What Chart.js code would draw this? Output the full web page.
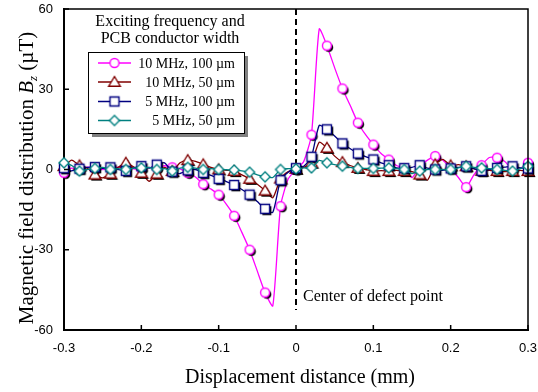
<!DOCTYPE html>
<html>
<head>
<meta charset="utf-8">
<script src="https://cdn.jsdelivr.net/npm/chart.js@4.4.1/dist/chart.umd.min.js"></script>
<style>
  html, body { margin: 0; padding: 0; background: #fff; }
  #wrap { width: 538px; height: 392px; }
</style>
</head>
<body>
<div id="wrap"><canvas id="fieldChart" width="538" height="392"></canvas></div>
<script>
// Scan positions (mm), one sample every 0.01 mm
const positions = [
  -0.30, -0.29, -0.28, -0.27, -0.26, -0.25, -0.24, -0.23, -0.22, -0.21,
  -0.20, -0.19, -0.18, -0.17, -0.16, -0.15, -0.14, -0.13, -0.12, -0.11,
  -0.10, -0.09, -0.08, -0.07, -0.06, -0.05, -0.04, -0.03, -0.02, -0.01,
   0.00,  0.01,  0.02,  0.03,  0.04,  0.05,  0.06,  0.07,  0.08,  0.09,
   0.10,  0.11,  0.12,  0.13,  0.14,  0.15,  0.16,  0.17,  0.18,  0.19,
   0.20,  0.21,  0.22,  0.23,  0.24,  0.25,  0.26,  0.27,  0.28,  0.29,
   0.30
];

const xTicks = [-0.3, -0.2, -0.1, 0, 0.1, 0.2, 0.3];
const yTicks = [-60, -30, 0, 30, 60];

// Bz (uT) per excitation / conductor width
const bz10MHz100um = [
  -1.2, 0.5, 0.3, 0.9, 0.6, 0.0, 0.4, 0.9, 0.6, 0.2,
   0.3, 0.8, 0.5, 1.4, 0.8, 0.2, -1.2, -2.8, -5.5, -7.3,
  -9.4, -13.0, -17.3, -23.5, -30.0, -38.0, -46.0, -51.0, -13.7, -3.5,
   0.0, 3.0, 13.0, 52.5, 46.3, 38.0, 30.3, 24.0, 17.5, 13.0,
   9.3, 6.0, 3.7, 1.5, 0.4, -3.0, 1.2, 3.5, 5.0, 3.5,
   0.4, -3.0, -6.6, -2.0, 1.6, 4.5, 4.4, 3.0, 0.0, 0.5,
   2.5
];
const bz10MHz50um = [
   1.25, 3.5, 1.5, 0.5, -1.9, -3.1, -1.6, 0.8, 2.5, 1.0,
  -1.25, -4.4, -1.6, 0.8, -0.6, 2.5, 3.5, 3.0, 1.9, 0.8,
   0.0, -0.3, -0.6, -2.0, -3.5, -5.5, -7.9, -10.6, -3.4, -0.8,
   0.25, 0.8, 2.5, 10.2, 8.1, 5.0, 2.75, 1.5, 0.6, 0.0,
  -0.6, -0.4, -0.6, -0.3, -0.6, -0.8, -1.9, -4.0, 1.9, 3.8,
   1.5, 1.8, 1.2, 0.3, -0.5, -0.3, -0.6, -0.8, -0.6, -0.3,
  -0.6
];
const bz5MHz100um = [
   0.5, -0.5, 0.3, 0.8, 0.9, 0.4, 0.8, 0.0, -0.5, 0.6,
   1.25, 0.5, 1.8, 2.5, -0.8, -1.5, -0.3, 0.0, -1.25, -2.2,
  -3.5, -4.5, -5.8, -7.5, -9.4, -12.0, -14.7, -16.0, -4.0, -1.0,
   0.5, 1.2, 4.75, 16.5, 15.0, 12.5, 9.75, 7.8, 6.0, 4.8,
   3.75, 2.5, 1.6, 0.6, 0.5, 0.8, 1.6, 0.5, 0.0, -0.3,
   0.4, 0.8, 1.2, 0.3, -0.5, 0.0, 0.6, 0.9, 1.2, 0.6,
   0.4
];
const bz5MHz50um = [
   2.5, 1.5, -0.6, 0.0, 0.4, 0.8, 0.0, 0.3, 0.0, 0.5,
   0.6, 0.8, 0.0, 0.3, -0.6, 0.5, 0.8, 0.5, 0.0, 0.3,
   0.0, -0.1, -0.2, -0.5, -1.0, -2.0, -2.75, -3.0, 0.0, 0.3,
   0.25, 0.6, 0.6, 3.4, 2.5, 1.8, 1.25, 0.8, 0.4, 0.4,
   0.4, 0.5, 0.6, 0.3, 0.0, -1.5, -0.6, 0.0, 0.0, 0.0,
   0.0, 0.6, 1.2, 0.8, 0.6, 0.3, 0.0, -0.3, -0.6, 0.3,
   1.2
];

const seriesLabels = ['10 MHz, 100 \u00b5m', '10 MHz, 50 \u00b5m', '5 MHz, 100 \u00b5m', '5 MHz, 50 \u00b5m'];
const seriesColors = ['#ff00ff', '#800000', '#000080', '#008080'];
const seriesShapes = ['circle', 'triangle', 'square', 'diamond'];
const seriesShadow = [true, true, true, false];
const seriesValues = [bz10MHz100um, bz10MHz50um, bz5MHz100um, bz5MHz50um];

const SERIF = "'Liberation Serif', 'Times New Roman', serif";
const SANS  = "'Liberation Sans', Arial, sans-serif";

// Small canvases used as point styles (white-filled marker, optional drop shadow)
function markerSprite(shape, color, shadow) {
  const c = document.createElement('canvas');
  c.width = c.height = 20;
  const g = c.getContext('2d');
  const path = (ox, oy) => {
    const cx = 10 + ox, cy = 10 + oy;
    g.beginPath();
    if (shape === 'circle') g.arc(cx, cy, 4.5, 0, Math.PI * 2);
    else if (shape === 'triangle') { g.moveTo(cx, cy - 5.5); g.lineTo(cx + 5.8, cy + 4.2); g.lineTo(cx - 5.8, cy + 4.2); g.closePath(); }
    else if (shape === 'square') g.rect(cx - 4.5, cy - 4.5, 9, 9);
    else { g.moveTo(cx, cy - 5); g.lineTo(cx + 5, cy); g.lineTo(cx, cy + 5); g.lineTo(cx - 5, cy); g.closePath(); }
  };
  if (shadow) { path(1.8, 1.8); g.fillStyle = '#000'; g.fill(); }
  path(0, 0);
  g.fillStyle = '#fff'; g.fill();
  g.lineWidth = 1.4; g.strokeStyle = color; g.stroke();
  return c;
}

const plotSprites   = seriesShapes.map((s, i) => markerSprite(s, seriesColors[i], seriesShadow[i]));
const legendSprites = seriesShapes.map((s, i) => markerSprite(s, seriesColors[i], false));

const datasets = seriesValues.map((vals, i) => ({
  label: seriesLabels[i],
  data: positions.map((x, k) => ({ x, y: vals[k] })),
  borderColor: seriesColors[i],
  borderWidth: 1.3,
  tension: 0.2,
  fill: false,
  clip: false,
  order: 4 - i,
  // a marker on every second sample (0.02 mm)
  pointRadius: ctx => (ctx.dataIndex % 2 === 0 ? 5 : 0),
  pointStyle: plotSprites[i],
}));

// Frame, inward ticks, dashed centre line, legend box and axis titles
const decorations = {
  id: 'decorations',
  beforeDatasetsDraw(chart) {
    const { ctx, chartArea: a, scales: { x } } = chart;
    const px = x.getPixelForValue(0);
    ctx.save();
    ctx.strokeStyle = '#000';
    ctx.lineWidth = 2;
    ctx.setLineDash([6, 4]);
    ctx.beginPath();
    ctx.moveTo(px, a.top);
    ctx.lineTo(px, a.bottom - 20);
    ctx.stroke();
    ctx.restore();
  },
  afterDraw(chart) {
    const { ctx, chartArea: a, scales: { x, y } } = chart;
    ctx.save();

    // top / right edges
    ctx.strokeStyle = '#000';
    ctx.lineWidth = 1.5;
    ctx.beginPath();
    ctx.moveTo(a.left, a.top); ctx.lineTo(a.right, a.top); ctx.lineTo(a.right, a.bottom);
    ctx.stroke();

    // tick marks pointing into the plot
    ctx.lineWidth = 1.5;
    ctx.beginPath();
    xTicks.forEach(v => { const p = x.getPixelForValue(v); ctx.moveTo(p, a.bottom); ctx.lineTo(p, a.bottom - 5); });
    yTicks.forEach(v => { const p = y.getPixelForValue(v); ctx.moveTo(a.left, p); ctx.lineTo(a.left + 5, p); });
    ctx.stroke();

    // legend heading
    ctx.fillStyle = '#000';
    ctx.textAlign = 'center';
    ctx.textBaseline = 'middle';
    ctx.font = '16px ' + SERIF;
    ctx.fillText('Exciting frequency and', 170, 22);
    ctx.fillText('PCB conductor width', 170, 39);

    // legend box with shadow
    const bx = 88, by = 52, bw = 156, bh = 81;
    ctx.fillStyle = '#808080';
    ctx.fillRect(bx + 4, by + 4, bw, bh);
    ctx.fillStyle = '#fff';
    ctx.fillRect(bx, by, bw, bh);
    ctx.strokeStyle = '#000';
    ctx.lineWidth = 1;
    ctx.strokeRect(bx + 0.5, by + 0.5, bw, bh);

    const rows = [63, 82, 101.5, 120.5];
    ctx.font = '14px ' + SERIF;
    ctx.textAlign = 'right';
    seriesLabels.forEach((lab, i) => {
      const ry = rows[i];
      ctx.strokeStyle = seriesColors[i];
      ctx.lineWidth = 1.3;
      ctx.beginPath(); ctx.moveTo(98, ry); ctx.lineTo(131, ry); ctx.stroke();
      const s = legendSprites[i];
      ctx.drawImage(s, 114.5 - s.width / 2, ry - s.height / 2);
      ctx.fillStyle = '#000';
      ctx.fillText(lab, 235, ry + 1);
    });

    // defect annotation
    ctx.textAlign = 'left';
    ctx.font = '16px ' + SERIF;
    ctx.fillText('Center of defect point', x.getPixelForValue(0) + 7, 297);

    // x axis title
    ctx.textAlign = 'center';
    ctx.font = '20px ' + SERIF;
    ctx.fillText('Displacement distance (mm)', 300, 378);

    // y axis title with italic B and subscript z
    const partA = 'Magnetic field distribution ';
    const partB = 'B';
    const partZ = 'z';
    const partC = ' (\u00b5T)';
    const fMain = '21px ' + SERIF, fIt = 'italic 21px ' + SERIF, fSub = 'italic 13px ' + SERIF;
    ctx.font = fMain; const wA = ctx.measureText(partA).width, wC = ctx.measureText(partC).width;
    ctx.font = fIt;   const wB = ctx.measureText(partB).width;
    ctx.font = fSub;  const wZ = ctx.measureText(partZ).width;
    const total = wA + wB + wZ + wC;
    ctx.translate(26, 178);
    ctx.rotate(-Math.PI / 2);
    ctx.textAlign = 'left';
    ctx.textBaseline = 'alphabetic';
    let cx = -total / 2;
    const base = 7;
    ctx.font = fMain; ctx.fillText(partA, cx, base); cx += wA;
    ctx.font = fIt;   ctx.fillText(partB, cx, base); cx += wB;
    ctx.font = fSub;  ctx.fillText(partZ, cx, base + 4); cx += wZ;
    ctx.font = fMain; ctx.fillText(partC, cx, base);

    ctx.restore();
  }
};

new Chart(document.getElementById('fieldChart'), {
  type: 'line',
  data: { datasets },
  plugins: [decorations],
  options: {
    responsive: false,
    animation: false,
    events: [],
    layout: { padding: { top: 9, right: 10, left: 0, bottom: 0 } },
    plugins: { legend: { display: false }, tooltip: { enabled: false } },
    scales: {
      x: {
        type: 'linear',
        min: -0.3,
        max: 0.3,
        afterFit: s => { s.height = 62; s.paddingLeft = 0; s.paddingRight = 0; },
        afterBuildTicks: s => { s.ticks = xTicks.map(v => ({ value: v })); },
        grid: { display: true, drawOnChartArea: false, drawTicks: false },
        border: { display: true, color: '#000', width: 2 },
        ticks: {
          padding: 11,
          color: '#000',
          font: { family: SANS, size: 13 },
          maxRotation: 0,
          callback: v => (v === 0 ? '0' : v.toFixed(1)),
        },
      },
      y: {
        type: 'linear',
        min: -60,
        max: 60,
        afterFit: s => { s.width = 64; s.paddingTop = 0; s.paddingBottom = 0; },
        afterBuildTicks: s => { s.ticks = yTicks.map(v => ({ value: v })); },
        grid: { display: true, drawOnChartArea: false, drawTicks: false },
        border: { display: true, color: '#000', width: 2 },
        ticks: {
          padding: 11,
          color: '#000',
          font: { family: SANS, size: 13 },
          callback: v => String(v),
        },
      },
    },
  },
});
</script>
</body>
</html>
